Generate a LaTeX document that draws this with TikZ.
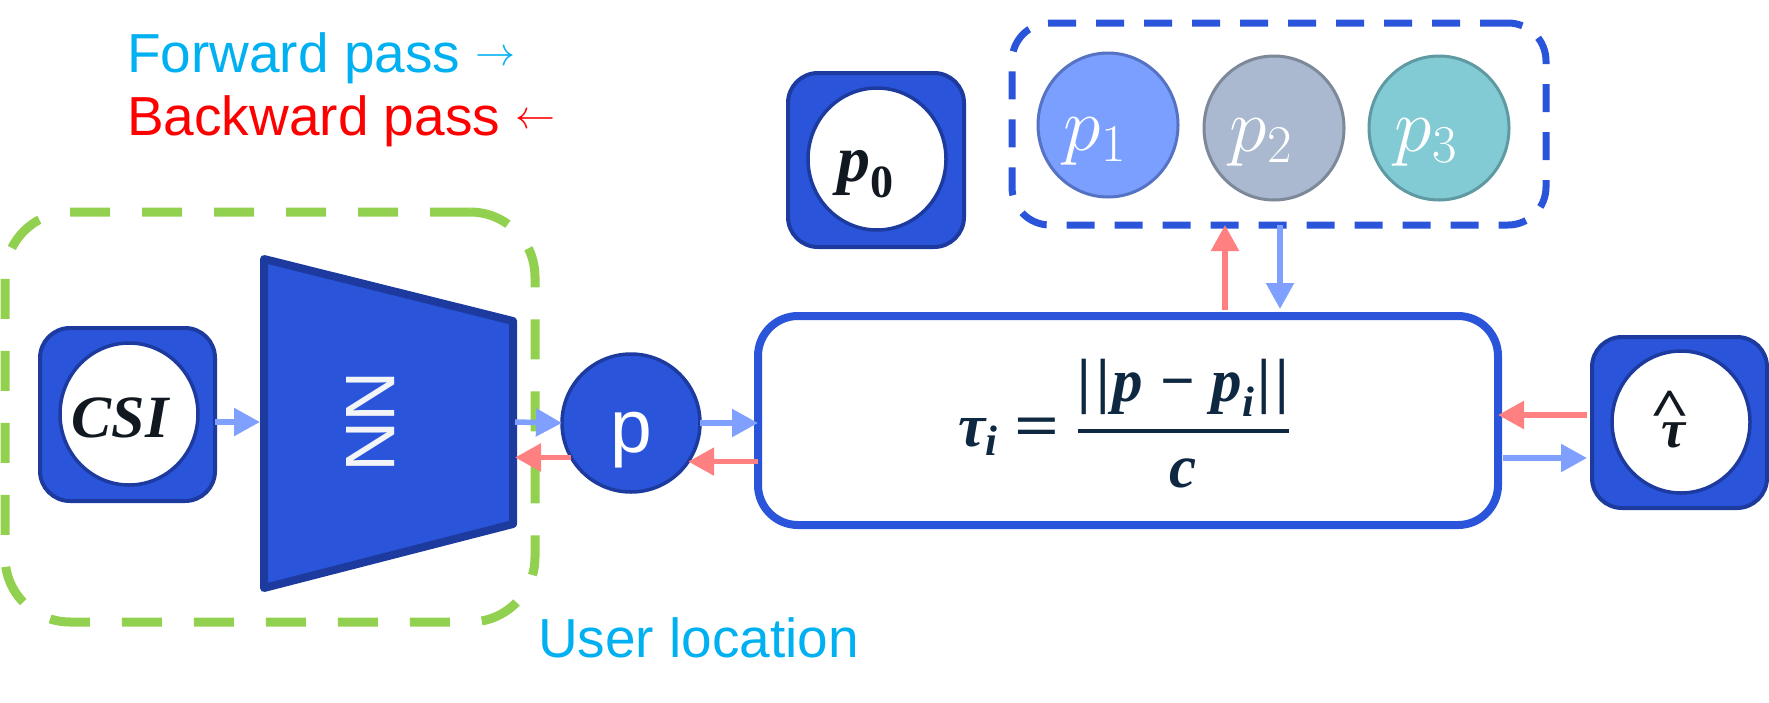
\RequirePackage{fix-cm}
\documentclass[tikz,border=0pt]{standalone}
\usepackage[no-math]{fontspec}
\usepackage{amsmath}
\usepackage{graphicx}
\usetikzlibrary{arrows.meta,shapes.geometric}
\newfontfamily\sansf{Liberation Sans}
\newfontfamily\seriff{Liberation Serif}
\definecolor{mainb}{RGB}{42,85,219}
\definecolor{bordc}{RGB}{29,58,158}
\definecolor{greenc}{RGB}{146,208,80}
\definecolor{cyanT}{RGB}{0,176,240}
\definecolor{fwdc}{RGB}{128,160,255}
\definecolor{bwdc}{RGB}{255,128,128}
\definecolor{navyc}{RGB}{14,40,65}
\definecolor{inkc}{RGB}{17,24,32}
\definecolor{p1f}{RGB}{123,159,255}
\definecolor{p1d}{RGB}{85,114,196}
\definecolor{p2f}{RGB}{170,185,207}
\definecolor{p2d}{RGB}{125,136,153}
\definecolor{p3f}{RGB}{130,202,212}
\definecolor{p3d}{RGB}{95,154,163}
\definecolor{nnwhite}{RGB}{242,244,248}
\newcommand\bi[1]{{\seriff\bfseries\itshape #1}}
\newcommand\bu[1]{{\seriff\bfseries #1}}
\newcommand\tauformula{$\displaystyle \text{\bi{τ}}_{\text{\bi{i}}} \mathrel{\text{\scalebox{1.3}[1]{\bu{=}}}}
  \genfrac{}{}{4pt}{0}{\text{\bu{|\kern0.08em|}\kern0.05em\bi{p}}\mskip5mu\text{\bu{−}}\mskip5mu\text{\bi{p}}_{\text{\bi{i}}}\text{\kern0.04em\bu{|\kern0.08em|}}}{\text{\bi{c}}}$}
\newcommand\pzerotext{$\text{\bi{p}}_{\text{\bu{0}}}$}
\newcommand\tauhattext{\bi{τ}\llap{\raisebox{0.38em}{\scalebox{1.3}[1]{\bu{\char"5E}}}\kern-0.1em}}
\tikzset{
  boxA/.style={draw=bordc, fill=mainb, line width=4pt, rounded corners=30pt, inner sep=0pt, outer sep=0pt},
  ell/.style={ellipse, draw=bordc, fill=white, line width=3.5pt, inner sep=0pt, outer sep=0pt, minimum width=138pt, minimum height=142pt},
  pc/.style={ellipse, line width=3pt, inner sep=0pt, outer sep=0pt, minimum width=140pt, minimum height=144pt},
  plbl/.style={anchor=base, inner sep=0pt, text=white, font=\fontsize{76}{76}\selectfont},
  legend/.style={anchor=base west, inner sep=0pt, font=\sansf\fontsize{55}{60}\selectfont},
  fwd/.style={draw=fwdc, line width=5.5pt, -{Triangle[length=26pt,width=27pt]}},
  bwd/.style={draw=bwdc, line width=5.5pt, -{Triangle[length=26pt,width=27pt]}},
}
\begin{document}
\begin{tikzpicture}[x=1pt,y=-1pt]
\useasboundingbox (0,0) rectangle (1769,702);

% legend
\node[legend, text=cyanT] (fwdtxt) at (127,72) {Forward pass \raisebox{7pt}{\fontsize{40}{40}\selectfont$\rightarrow$}};
\node[legend, text=red] (bwdtxt) at (127,135) {Backward pass \raisebox{7pt}{\fontsize{40}{40}\selectfont$\leftarrow$}};

% user location group
\node[draw=greenc, line width=9pt, dash pattern=on 40pt off 32pt, rounded corners=65pt,
      minimum width=530pt, minimum height=410pt, inner sep=0pt, outer sep=0pt] (userbox) at (270,417) {};
\node[legend, text=cyanT] (usrtxt) at (538,657) {User location};

% CSI
\node[boxA, minimum width=175pt, minimum height=173pt] (csi) at (127.5,414.5) {};
\node[ell] (csiell) at (129,414) {};
\node[inner sep=0pt, text=inkc, font=\seriff\bfseries\itshape\fontsize{60}{60}\selectfont] (csitxt) at (120,418) {CSI};

% NN trapezoid
\draw[draw=bordc, fill=mainb, line width=8pt, line join=round] (264,259) -- (513,321) -- (513,524) -- (264,588) -- cycle;
\coordinate (nnW) at (260,422);
\coordinate (nnE) at (515,422);
\node[rotate=-90, inner sep=0pt, text=nnwhite, font=\sansf\fontsize{70}{70}\selectfont] (nntxt) at (371,422) {NN};

% p
\node[circle, draw=bordc, fill=mainb, line width=3.5pt, minimum size=138pt, inner sep=0pt, outer sep=0pt] (p) at (631,423) {};
\node[anchor=base, inner sep=0pt, text=white, font=\sansf\fontsize{75}{75}\selectfont] (ptxt) at (631,452) {p};

% formula box
\node[draw=mainb, fill=white, line width=8pt, rounded corners=40pt, minimum width=740pt, minimum height=209pt, inner sep=0pt, outer sep=0pt] (fbox) at (1128,420.5) {};
\node[anchor=base, inner sep=0pt, text=navyc, font=\fontsize{61}{64}\selectfont] (formula) at (1124,446) {\tauformula};

% p0
\node[boxA, minimum width=176pt, minimum height=174pt] (p0box) at (876,160) {};
\node[ell] (p0ell) at (877,159) {};
\node[anchor=base, inner sep=0pt, text=inkc, font=\fontsize{66}{66}\selectfont] (p0txt) at (866,181) {\pzerotext};

% parameter group
\node[draw=mainb, line width=7pt, dash pattern=on 28pt off 20pt, rounded corners=38pt,
      minimum width=534pt, minimum height=202pt, inner sep=0pt, outer sep=0pt] (params) at (1279,124) {};
\node[pc, fill=p1f, draw=p1d] (p1) at (1108,125) {};
\node[pc, fill=p2f, draw=p2d] (p2) at (1274,128) {};
\node[pc, fill=p3f, draw=p3d] (p3) at (1439,128) {};
\node[plbl] (p1txt) at (1095,150) {$p_1$};
\node[plbl] (p2txt) at (1261,151) {$p_2$};
\node[plbl] (p3txt) at (1426,151) {$p_3$};

% tau hat
\node[boxA, minimum width=175pt, minimum height=171pt] (taubox) at (1679.5,422.5) {};
\node[ell] (tauell) at (1681,422) {};
\node[anchor=base, inner sep=0pt, text=inkc, font=\fontsize{54}{54}\selectfont] (tautxt) at (1673,447) {\tauhattext};

% connectors
\coordinate (upx) at (1225,0);
\coordinate (dnx) at (1280,0);
\coordinate (ya) at (0,415);
\coordinate (yb) at (0,458);
\draw[fwd] (csi.east |- nnW) -- (nnW);
\draw[fwd] (nnE) -- (p.west);
\draw[bwd] (p.210) -- (p.210 -| nnE);
\draw[fwd] (p.east) -- (p.east -| fbox.west);
\draw[bwd] (fbox.west |- p.326) -- (p.326);
\draw[bwd, shorten <=6pt] (fbox.north -| upx) -- (params.south -| upx);
\draw[fwd, shorten >=7pt] (params.south -| dnx) -- (fbox.north -| dnx);
\draw[bwd, shorten <=5pt] (taubox.west |- ya) -- (fbox.east |- ya);
\draw[fwd, shorten <=5pt, shorten >=5pt] (fbox.east |- yb) -- (taubox.west |- yb);
\end{tikzpicture}
\end{document}
